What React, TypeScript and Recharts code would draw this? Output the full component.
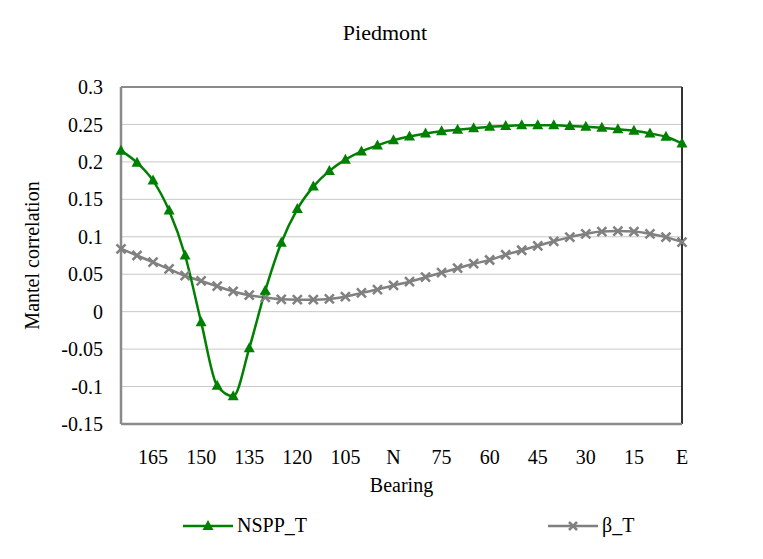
import React from 'react';
import { LineChart, Line, XAxis, YAxis, CartesianGrid, ReferenceLine } from 'recharts';

// bearings, west -> east
const bearings = [
  175, 170, 165, 160, 155, 150, 145, 140, 135, 130, 125, 120,
  115, 110, 105, 100, 95, 90, 85, 80, 75, 70, 65, 60,
  55, 50, 45, 40, 35, 30, 25, 20, 15, 10, 5, 0,
];

const nsppT = [
  0.215, 0.199, 0.175, 0.135, 0.075, -0.014, -0.099, -0.113, -0.049, 0.028, 0.092, 0.137,
  0.167, 0.188, 0.203, 0.214, 0.222, 0.229, 0.234, 0.238, 0.241, 0.243, 0.245, 0.247,
  0.248, 0.249, 0.249, 0.249, 0.248, 0.247, 0.2455, 0.2435, 0.2415, 0.238, 0.2335, 0.2245,
];

const betaT = [
  0.084, 0.075, 0.066, 0.057, 0.048, 0.041, 0.034, 0.027, 0.022, 0.019, 0.0165, 0.016,
  0.016, 0.017, 0.02, 0.025, 0.0295, 0.035, 0.04, 0.046, 0.052, 0.058, 0.064, 0.069,
  0.076, 0.082, 0.088, 0.094, 0.0995, 0.104, 0.107, 0.1076, 0.107, 0.104, 0.0995, 0.093,
];

const xTickValues = [165, 150, 135, 120, 105, 90, 75, 60, 45, 30, 15, 0];
const xTickText = ['165', '150', '135', '120', '105', 'N', '75', '60', '45', '30', '15', 'E'];
const yTicks = [-0.15, -0.1, -0.05, 0, 0.05, 0.1, 0.15, 0.2, 0.25, 0.3];

const data = bearings.map((b, i) => ({ bearing: b, nspp: nsppT[i], beta: betaT[i] }));

const FONT = "'Liberation Serif', 'DejaVu Serif', serif";
const GREEN = '#008000';
const GREY = '#808080';

const Triangle = ({ cx, cy }: any) => {
  if (cx == null || cy == null) return null;
  return <polygon points={`${cx},${cy - 6} ${cx - 5.5},${cy + 4} ${cx + 5.5},${cy + 4}`} fill={GREEN} />;
};

const Cross = ({ cx, cy }: any) => {
  if (cx == null || cy == null) return null;
  return (
    <g stroke={GREY} strokeWidth={2.5}>
      <line x1={cx - 4.5} y1={cy - 4.5} x2={cx + 4.5} y2={cy + 4.5} />
      <line x1={cx - 4.5} y1={cy + 4.5} x2={cx + 4.5} y2={cy - 4.5} />
    </g>
  );
};

const fmtX = (v: number) => {
  const i = xTickValues.indexOf(v);
  return i >= 0 ? xTickText[i] : '';
};

export default function App() {
  return (
    <div style={{ position: 'relative', width: 763, height: 559, margin: -8, fontFamily: FONT, background: '#fff' }}>
      <div style={{ position: 'absolute', left: 5, top: 5, right: 0, bottom: 0, borderLeft: '3px solid #000', borderTop: '3px solid #000' }} />
      <div style={{ position: 'absolute', left: 0, width: 770, top: 20, textAlign: 'center', fontSize: 22, color: '#000' }}>
        Piedmont
      </div>
      <LineChart width={763} height={559} data={data} margin={{ top: 87, right: 81, bottom: 65, left: 0 }}>
        <CartesianGrid horizontal vertical={false} stroke="#c8c8c8" strokeWidth={1} />
        <XAxis
          dataKey="bearing"
          interval={0}
          tickFormatter={fmtX}
          tickLine={false}
          tickSize={0}
          tickMargin={26}
          height={70}
          axisLine={{ stroke: '#8a8a8a', strokeWidth: 2.5 }}
          tick={{ fill: '#000', fontSize: 20, fontFamily: FONT }}
          label={{ value: 'Bearing', position: 'insideBottom', offset: 2, fill: '#000', fontSize: 20, fontFamily: FONT }}
        />
        <YAxis
          width={121}
          domain={[-0.15, 0.3]}
          ticks={yTicks}
          tickLine={false}
          tickSize={0}
          tickMargin={18}
          axisLine={{ stroke: '#8a8a8a', strokeWidth: 2.5 }}
          tick={{ fill: '#000', fontSize: 20, fontFamily: FONT }}
          label={{ value: 'Mantel correlation', angle: -90, position: 'insideLeft', offset: 32, fill: '#000', fontSize: 20, fontFamily: FONT, style: { textAnchor: 'middle' } }}
        />
        <ReferenceLine y={0.3} stroke="#8a8a8a" strokeWidth={2} />
        <ReferenceLine x={0} stroke="#333" strokeWidth={2} />
        <Line type="monotone" dataKey="beta" stroke={GREY} strokeWidth={2.5} dot={<Cross />} isAnimationActive={false} />
        <Line type="monotone" dataKey="nspp" stroke={GREEN} strokeWidth={2.5} dot={<Triangle />} isAnimationActive={false} />
      </LineChart>
      <div style={{ position: 'absolute', top: 514, left: 183, display: 'flex', alignItems: 'center', fontSize: 20, color: '#000' }}>
        <svg width={52} height={20}>
          <line x1={0} y1={10} x2={50} y2={10} stroke={GREEN} strokeWidth={2.5} />
          <polygon points="25,4 19.5,14 30.5,14" fill={GREEN} />
        </svg>
        <span style={{ marginLeft: 2 }}>NSPP_T</span>
      </div>
      <div style={{ position: 'absolute', top: 514, left: 548, display: 'flex', alignItems: 'center', fontSize: 20, color: '#000' }}>
        <svg width={52} height={20}>
          <line x1={0} y1={10} x2={50} y2={10} stroke={GREY} strokeWidth={2.5} />
          <g stroke={GREY} strokeWidth={2.5}>
            <line x1={21} y1={6} x2={29} y2={14} />
            <line x1={21} y1={14} x2={29} y2={6} />
          </g>
        </svg>
        <span style={{ marginLeft: 2 }}>β_T</span>
      </div>
    </div>
  );
}
